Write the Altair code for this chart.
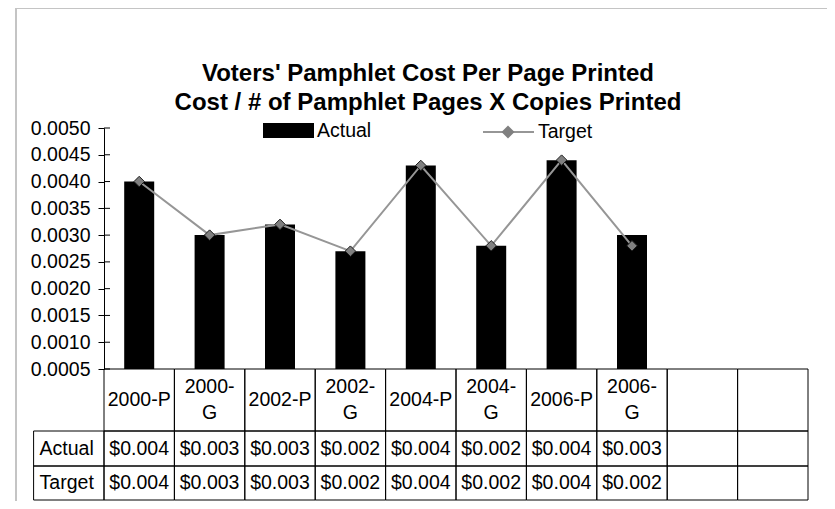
import altair as alt
import pandas as pd

# ---------------- data ----------------
categories = ["2000-P", "2000-G", "2002-P", "2002-G", "2004-P", "2004-G", "2006-P", "2006-G"]
blank_columns = [" ", "  "]          # two empty columns of the data table
actual = [0.0040, 0.0030, 0.0032, 0.0027, 0.0043, 0.0028, 0.0044, 0.0030]
target = [0.0040, 0.0030, 0.0032, 0.0027, 0.0043, 0.0028, 0.0044, 0.0028]
actual_table = ["$0.004", "$0.003", "$0.003", "$0.002", "$0.004", "$0.002", "$0.004", "$0.003"]
target_table = ["$0.004", "$0.003", "$0.003", "$0.002", "$0.004", "$0.002", "$0.004", "$0.002"]
y_ticks = [0.0005, 0.0010, 0.0015, 0.0020, 0.0025, 0.0030, 0.0035, 0.0040, 0.0045, 0.0050]
series_names = ["Actual", "Target"]
title_lines = ["Voters' Pamphlet Cost Per Page Printed",
               "Cost / # of Pamphlet Pages X Copies Printed"]

# ---------------- layout / style ----------------
FONT = "Liberation Sans"
FS = 19.5
W, H = 704, 241
LABEL_COL = "_rowlabel"
all_cols = categories + blank_columns
x_domain = [LABEL_COL] + all_cols
step = W / len(all_cols)
x_scale = alt.Scale(domain=x_domain, range=[-step, W], paddingInner=0, paddingOuter=0)
y_scale = alt.Scale(domain=[y_ticks[0], y_ticks[-1]], nice=False, zero=False)
row_edges = {"header": (0, 62), "Actual": (62, 97), "Target": (97, 131)}
TABLE_H = row_edges["Target"][1]
t_scale = alt.Scale(domain=[0, TABLE_H], range=[H, H + TABLE_H], nice=False, zero=False)
HEADER_LINE_H = 26
LINE_GRAY = "#969696"
MARK_GRAY = "#808080"
MARK_EDGE = "#1a1a1a"
MARKER_KEY = series_names[1] + " marker"   # separate (label-less) legend key for the diamonds

y_axis = alt.Axis(values=y_ticks, format=".4f", title=None, grid=False,
                  domainColor="black", tickColor="black", tickSize=6,
                  labelFontSize=FS, labelColor="black", labelPadding=8, labelFont=FONT)

# ---------------- plot data ----------------
bars_df = pd.DataFrame({"cat": categories, "value": actual, "bar_series": series_names[0]})
line_df = pd.DataFrame({"cat": categories, "value": target,
                        "line_series": series_names[1], "marker_series": MARKER_KEY})
ticks_df = pd.DataFrame({"value": y_ticks})
title_df = pd.DataFrame({"text": ["\n".join(title_lines)]})

frame = alt.Chart(pd.DataFrame({"a": [0]})).mark_rect(
    fill="white", fillOpacity=0, stroke="#c4c4c4", strokeWidth=2
).encode(x=alt.value(-88), x2=alt.value(W + 200), y=alt.value(-120), y2=alt.value(H + 300))

title = alt.Chart(title_df).mark_text(
    font=FONT, fontSize=24, fontWeight="bold", color="black", align="center",
    baseline="middle", lineBreak="\n", lineHeight=29
).encode(x=alt.value(324), y=alt.value(-54), text="text:N")

actual_sym = "M-1,-0.294H1V0.294H-1Z"
target_sym = "M-1,0H1"

bars = alt.Chart(bars_df).mark_bar(size=30, stroke=None).encode(
    x=alt.X("cat:N", scale=x_scale, axis=None, sort=x_domain),
    y=alt.Y("value:Q", scale=y_scale, axis=y_axis),
    y2=alt.datum(y_ticks[0]),
    fill=alt.Fill("bar_series:N",
                  scale=alt.Scale(domain=[series_names[0]], range=["black"]),
                  legend=alt.Legend(orient="none", legendX=159, legendY=-23, title=None,
                                    symbolType=actual_sym, symbolSize=2601,
                                    symbolStrokeWidth=0, labelFontSize=FS, labelFont=FONT,
                                    labelColor="black", labelOffset=3, padding=0)),
)

line = alt.Chart(line_df).mark_line(strokeWidth=2).encode(
    x=alt.X("cat:N", scale=x_scale, axis=None, sort=x_domain),
    y=alt.Y("value:Q", scale=y_scale, axis=y_axis),
    stroke=alt.Stroke("line_series:N",
                      scale=alt.Scale(domain=[series_names[1]], range=[LINE_GRAY]),
                      legend=alt.Legend(orient="none", legendX=378, legendY=-22.5, title=None,
                                        symbolType=target_sym, symbolSize=2601,
                                        symbolStrokeWidth=2,
                                        labelFontSize=FS, labelFont=FONT,
                                        labelColor="black", labelOffset=3, padding=0)),
)

# diamond markers; their label-less legend sits on the centre of the Target legend line
points = alt.Chart(line_df).mark_point(
    filled=True, size=110, fill=MARK_GRAY, stroke=MARK_EDGE, strokeWidth=1, opacity=1
).encode(
    x=alt.X("cat:N", scale=x_scale, axis=None, sort=x_domain),
    y=alt.Y("value:Q", scale=y_scale, axis=y_axis),
    shape=alt.Shape("marker_series:N",
                    scale=alt.Scale(domain=[MARKER_KEY], range=["diamond"]),
                    legend=alt.Legend(orient="none", legendX=396.5, legendY=-3.5, title=None,
                                      symbolSize=169, symbolFillColor=MARK_GRAY,
                                      symbolStrokeColor=MARK_EDGE, symbolStrokeWidth=1.5,
                                      symbolOpacity=1, labelExpr="''", labelFontSize=13,
                                      labelOffset=0, padding=0)),
)

inner_ticks = alt.Chart(ticks_df).mark_rule(color="black", strokeWidth=1).encode(
    y=alt.Y("value:Q", scale=y_scale, axis=y_axis),
    x=alt.value(0), x2=alt.value(6),
)

plot = alt.layer(frame, title, bars, line, points, inner_ticks)

# ---------------- data table ----------------
cells = []
for c in all_cols:
    for r in ["header", "Actual", "Target"]:
        cells.append({"col": c, "top": row_edges[r][0], "bottom": row_edges[r][1]})
for r in ["Actual", "Target"]:
    cells.append({"col": LABEL_COL, "top": row_edges[r][0], "bottom": row_edges[r][1]})
cells_df = pd.DataFrame(cells)

def header_lines(c):
    # Excel wraps the "-G" labels onto two lines
    return [c] if c.endswith("P") else [c.split("-")[0] + "-", c.split("-")[1]]

texts = []
hmid = sum(row_edges["header"]) / 2
for c in categories:
    lines = header_lines(c)
    n = len(lines)
    for i, ln in enumerate(lines):
        texts.append({"col": c, "text": ln,
                      "mid": hmid + (i - (n - 1) / 2) * HEADER_LINE_H})
for c, a, t in zip(categories, actual_table, target_table):
    texts.append({"col": c, "text": a, "mid": sum(row_edges["Actual"]) / 2})
    texts.append({"col": c, "text": t, "mid": sum(row_edges["Target"]) / 2})
texts_df = pd.DataFrame(texts)
labels_df = pd.DataFrame({"col": LABEL_COL, "text": series_names,
                          "mid": [sum(row_edges[s]) / 2 for s in series_names]})

table_cells = alt.Chart(cells_df).mark_rect(
    fill="white", fillOpacity=0, stroke="black", strokeWidth=1
).encode(
    x=alt.X("col:N", scale=x_scale, axis=None, sort=x_domain),
    y=alt.Y("top:Q", scale=t_scale, axis=None),
    y2="bottom:Q",
)

table_text = alt.Chart(texts_df).mark_text(
    font=FONT, fontSize=FS, color="black", baseline="middle", align="center"
).encode(
    x=alt.X("col:N", scale=x_scale, axis=None, sort=x_domain),
    y=alt.Y("mid:Q", scale=t_scale, axis=None),
    text="text:N",
)

row_labels = alt.Chart(labels_df).mark_text(
    font=FONT, fontSize=FS, color="black", baseline="middle", align="left", dx=6
).encode(
    x=alt.X("col:N", scale=x_scale, axis=None, sort=x_domain, bandPosition=0),
    y=alt.Y("mid:Q", scale=t_scale, axis=None),
    text="text:N",
)

table = alt.layer(table_cells, table_text, row_labels)

chart = alt.layer(plot, table).resolve_scale(y="independent").properties(
    width=W, height=H,
    autosize=alt.AutoSizeParams(type="none"),
    padding={"left": 96, "top": 120, "right": 19, "bottom": 132},
).configure(font=FONT, view=alt.ViewConfig(stroke=None))

chart.save("out.html", embed_options={"renderer": "svg", "actions": False})
